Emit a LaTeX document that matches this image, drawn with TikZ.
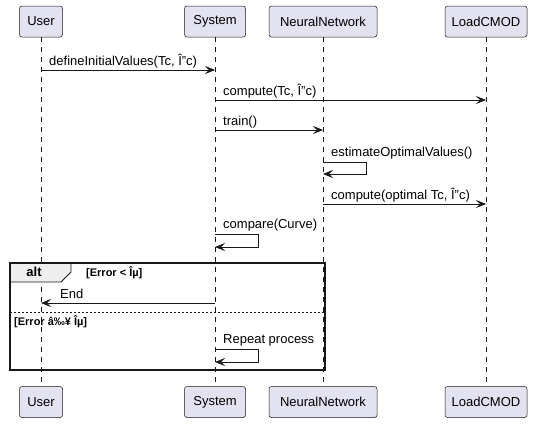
\documentclass[tikz,border=0pt]{standalone}
\usepackage{fontspec}
\setmainfont{Liberation Sans}
\usetikzlibrary{arrows.meta}
\definecolor{boxfill}{HTML}{E2E2F0}
\definecolor{edge}{HTML}{181818}
\definecolor{tabfill}{HTML}{EEEEEE}
\begin{document}
\begin{tikzpicture}[x=1pt,y=-1pt,
  part/.style={draw=edge, fill=boxfill, rounded corners=2.5pt, minimum height=31pt,
    inner sep=0pt, font=\fontsize{13}{15}\selectfont, line width=0.5pt},
  life/.style={draw=edge, dash pattern=on 5pt off 5pt, line width=0.5pt},
  msg/.style={draw=edge, -{Stealth[length=10pt,width=8pt,inset=4pt]}, line width=0.8pt},
  lbl/.style={anchor=base west, inner sep=0pt, font=\fontsize{13}{15}\selectfont},
  guard/.style={anchor=base west, inner sep=0pt, font=\bfseries\fontsize{11}{13}\selectfont}]
\useasboundingbox (0,0) rectangle (537,423);
% participants
\node[part, minimum width=43pt] (uT) at (41,21.5) {User};
\node[part, minimum width=61pt] (sT) at (215,21.5) {System};
\node[part, minimum width=108pt] (nT) at (323,21.5) {NeuralNetwork};
\node[part, minimum width=82pt] (lT) at (486,21.5) {LoadCMOD};
\node[part, minimum width=43pt] (uB) at (41,402) {User};
\node[part, minimum width=61pt] (sB) at (215,402) {System};
\node[part, minimum width=108pt] (nB) at (323,402) {NeuralNetwork};
\node[part, minimum width=82pt] (lB) at (486,402) {LoadCMOD};
% lifelines
\draw[life] (uT.south) -- (uB.north);
\draw[life] (sT.south) -- (sB.north);
\draw[life] (nT.south) -- (nB.north);
\draw[life] (lT.south) -- (lB.north);
% messages
\draw[msg] (uT |- 0,70) -- (sT |- 0,70);
\node[lbl] (t1) at (49,65) {defineInitialValues(Tc, Î”c)};
\draw[msg] (sT |- 0,100) -- (lT |- 0,100);
\node[lbl] (t2) at (223,95) {compute(Tc, Î”c)};
\draw[msg] (sT |- 0,130) -- (nT |- 0,130);
\node[lbl] (t3) at (223,125) {train()};
\draw[msg] (nT |- 0,162) -- ++(43,0) |- (nT |- 0,174);
\node[lbl] (t4) at (331,156) {estimateOptimalValues()};
\draw[msg] (nT |- 0,204) -- (lT |- 0,204);
\node[lbl] (t5) at (331,199) {compute(optimal Tc, Î”c)};
\draw[msg] (sT |- 0,234) -- ++(43,0) |- (sT |- 0,247);
\node[lbl] (t6) at (223,228) {compare(Curve)};
% alt frame
\draw[edge, fill=tabfill, line width=0.8pt] (10,263) -- (71,263) -- (71,272) -- (61,282) -- (10,282) -- cycle;
\node[font=\bfseries\fontsize{13}{15}\selectfont, inner sep=0pt] (altl) at (34,272) {alt};
\node[guard] (g1) at (86,276) {[Error < Îµ]};
\draw[msg] (sT |- 0,303) -- (uT |- 0,303);
\node[lbl] (t7) at (60,298) {End};
\draw[edge, line width=0.8pt, dash pattern=on 2pt off 2pt] (10,312) -- (325,312);
\node[guard] (g2) at (14,325) {[Error â‰¥ Îµ]};
\draw[msg] (sT |- 0,349) -- ++(43,0) |- (sT |- 0,362);
\node[lbl] (t8) at (223,343) {Repeat process};
\draw[edge, line width=1.5pt] (10,263) rectangle (325,370);
\end{tikzpicture}
\end{document}
